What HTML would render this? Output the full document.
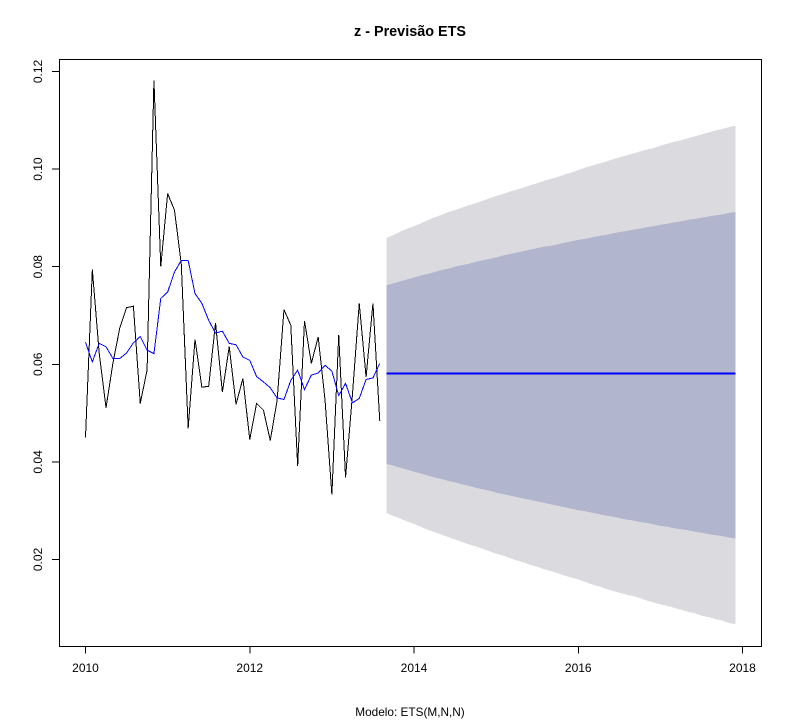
<!DOCTYPE html>
<html lang="pt">
<head>
<meta charset="utf-8">
<title>z - Previsão ETS</title>
<style>
html,body{margin:0;padding:0;background:#fff;}
svg{display:block;}
text{font-family:"Liberation Sans",Arial,sans-serif;fill:#000;}
</style>
</head>
<body>
<svg id="chart" xmlns="http://www.w3.org/2000/svg" width="792" height="720" viewBox="0 0 792 720">
  <rect x="0" y="0" width="792" height="720" fill="#fff"/>
  <g id="bands" shape-rendering="crispEdges"></g>
  <g id="series" shape-rendering="crispEdges"></g>
  <g id="axes" shape-rendering="crispEdges"></g>
  <rect x="59.5" y="59.5" width="702" height="587" fill="none" stroke="#000" stroke-width="1" shape-rendering="crispEdges"/>
  <g id="labels"></g>
  <text x="410" y="36" text-anchor="middle" font-size="14.4" font-weight="bold">z - Previsão ETS</text>
  <text x="410" y="716" text-anchor="middle" font-size="11.8">Modelo: ETS(M,N,N)</text>
</svg>
<script>
const xTicks = [2010, 2012, 2014, 2016, 2018];
const yTicks = [0.02, 0.04, 0.06, 0.08, 0.10, 0.12];
const yTickLabels = ["0.02", "0.04", "0.06", "0.08", "0.10", "0.12"];
const startYear = 2010;
const forecastStartIndex = 44;
const observed = [0.0450,0.0794,0.0623,0.0511,0.0602,0.0674,0.0716,0.0719,0.0520,0.0588,0.1182,0.0800,0.0950,0.0916,0.0805,0.0469,0.0651,0.0553,0.0555,0.0685,0.0543,0.0636,0.0518,0.0571,0.0446,0.0520,0.0506,0.0444,0.0526,0.0712,0.0680,0.0392,0.0689,0.0602,0.0656,0.0527,0.0333,0.0660,0.0368,0.0537,0.0725,0.0574,0.0725,0.0484];
const fitted = [0.0645,0.0605,0.0643,0.0636,0.0612,0.0612,0.0623,0.0644,0.0657,0.0629,0.0622,0.0735,0.0748,0.0789,0.0813,0.0813,0.0745,0.0725,0.0690,0.0664,0.0668,0.0643,0.0640,0.0615,0.0608,0.0575,0.0564,0.0552,0.0531,0.0528,0.0567,0.0588,0.0548,0.0578,0.0582,0.0598,0.0586,0.0536,0.0561,0.0521,0.0530,0.0569,0.0572,0.0602];
const forecastMean = 0.0581;
const upper95 = [0.0859,0.0865,0.0872,0.0878,0.0883,0.0889,0.0895,0.0901,0.0906,0.0912,0.0916,0.0921,0.0926,0.0930,0.0935,0.0940,0.0945,0.0949,0.0954,0.0958,0.0962,0.0967,0.0971,0.0976,0.0980,0.0984,0.0989,0.0993,0.0998,0.1003,0.1007,0.1011,0.1015,0.1020,0.1024,0.1028,0.1032,0.1036,0.1040,0.1043,0.1048,0.1052,0.1056,0.1059,0.1063,0.1067,0.1071,0.1075,0.1079,0.1082,0.1086,0.1089];
const upper80 = [0.0762,0.0766,0.0770,0.0774,0.0778,0.0782,0.0785,0.0789,0.0793,0.0796,0.0800,0.0803,0.0806,0.0810,0.0813,0.0816,0.0819,0.0823,0.0826,0.0829,0.0832,0.0835,0.0838,0.0841,0.0843,0.0846,0.0849,0.0852,0.0855,0.0857,0.0860,0.0863,0.0865,0.0868,0.0871,0.0873,0.0876,0.0878,0.0881,0.0883,0.0886,0.0888,0.0891,0.0893,0.0896,0.0898,0.0900,0.0903,0.0905,0.0907,0.0910,0.0912];
const lower80 = [0.0396,0.0392,0.0388,0.0384,0.0380,0.0376,0.0372,0.0368,0.0365,0.0361,0.0358,0.0354,0.0351,0.0347,0.0344,0.0341,0.0337,0.0334,0.0331,0.0328,0.0325,0.0322,0.0319,0.0316,0.0313,0.0310,0.0307,0.0304,0.0301,0.0299,0.0296,0.0293,0.0290,0.0288,0.0285,0.0282,0.0280,0.0277,0.0275,0.0272,0.0269,0.0267,0.0264,0.0262,0.0260,0.0257,0.0255,0.0252,0.0250,0.0248,0.0245,0.0243];
const lower95 = [0.0295,0.0289,0.0284,0.0278,0.0273,0.0267,0.0261,0.0256,0.0251,0.0246,0.0241,0.0236,0.0231,0.0227,0.0222,0.0217,0.0212,0.0208,0.0203,0.0198,0.0194,0.0189,0.0185,0.0180,0.0176,0.0172,0.0167,0.0163,0.0159,0.0154,0.0149,0.0145,0.0140,0.0136,0.0132,0.0128,0.0125,0.0121,0.0116,0.0112,0.0108,0.0105,0.0101,0.0097,0.0093,0.0090,0.0085,0.0082,0.0078,0.0075,0.0070,0.0067];

const SVG_NS = "http://www.w3.org/2000/svg";
function xScale(year) { return 85.5 + (year - 2010) * (742.5 - 85.5) / 8; }
function yScale(v) { return 559.5 - (v - 0.02) * (559.5 - 71.5) / 0.10; }
function monthX(i) { return xScale(startYear + i / 12); }
function make(tag, parent, attrs) {
  const el = document.createElementNS(SVG_NS, tag);
  for (const k in attrs) el.setAttribute(k, attrs[k]);
  parent.appendChild(el);
  return el;
}
function linePoints(values, offset) {
  return values.map((v, i) => monthX(i + offset).toFixed(2) + "," + yScale(v).toFixed(2)).join(" ");
}
function bandPoints(upper, lower, offset) {
  const top = upper.map((v, i) => monthX(i + offset).toFixed(2) + "," + yScale(v).toFixed(2));
  const bottom = lower.map((v, i) => monthX(i + offset).toFixed(2) + "," + yScale(v).toFixed(2)).reverse();
  return top.concat(bottom).join(" ");
}

const bands = document.getElementById("bands");
const series = document.getElementById("series");
const axes = document.getElementById("axes");
const labels = document.getElementById("labels");

const band95 = make("polygon", bands, {points: bandPoints(upper95, lower95, forecastStartIndex), fill: "#dbdbdf"});


const band80 = make("polygon", bands, {points: bandPoints(upper80, lower80, forecastStartIndex), fill: "#b1b5ce"});



const observedLine = make("polyline", series, {points: linePoints(observed, 0), fill: "none", stroke: "#000", "stroke-width": 1});


const fittedLine = make("polyline", series, {points: linePoints(fitted, 0), fill: "none", stroke: "#0000ff", "stroke-width": 1});


const meanLine = make("polyline", series, {points: linePoints(upper95.map(() => forecastMean), forecastStartIndex), fill: "none", stroke: "#0000ff", "stroke-width": 2});



xTicks.forEach((year) => {
  const x = xScale(year);
  const tick = make("line", axes, {x1: x, x2: x, y1: 646.5, y2: 653.5, stroke: "#000", "stroke-width": 1});
  
  
  const label = make("text", labels, {x: x, y: 672, "text-anchor": "middle", "font-size": 12});
  
  
  label.textContent = String(year);
});
yTicks.forEach((v, i) => {
  const y = yScale(v);
  const tick = make("line", axes, {x1: 52, x2: 59.5, y1: y, y2: y, stroke: "#000", "stroke-width": 1});
  
  
  const label = make("text", labels, {x: 0, y: 0, transform: "translate(42," + y + ") rotate(-90)", "text-anchor": "middle", "font-size": 12});
  
  
  label.textContent = yTickLabels[i];
});
</script>
</body>
</html>
